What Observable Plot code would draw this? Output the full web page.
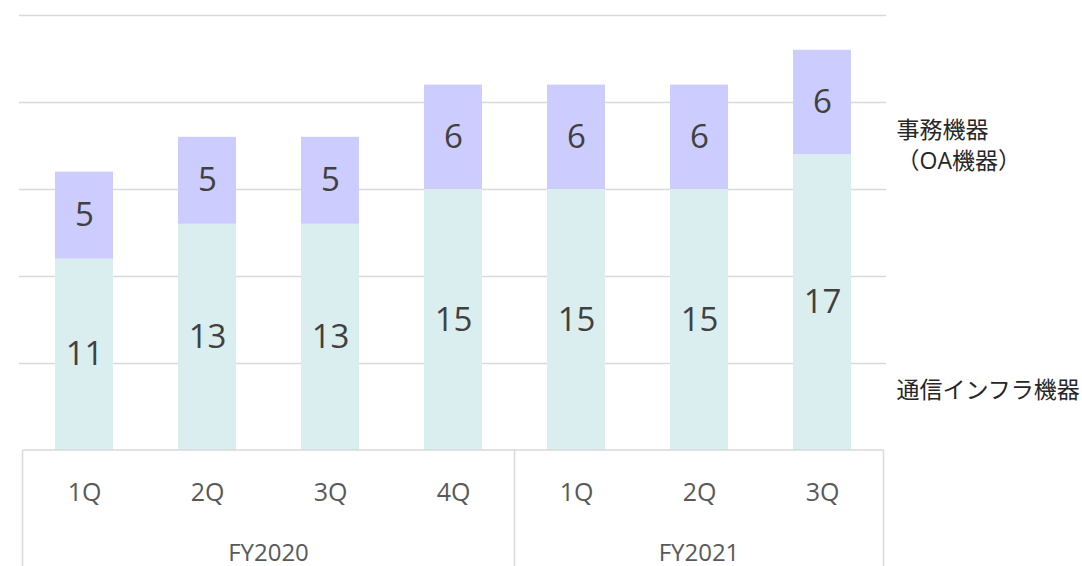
<!DOCTYPE html>
<html><head><meta charset="utf-8">
<script src="https://cdn.jsdelivr.net/npm/d3@7"></script>
<script src="https://cdn.jsdelivr.net/npm/@observablehq/plot@0.6"></script>
<style>
html,body{margin:0;padding:0;background:#fff;overflow:hidden}
svg{display:block}
</style>
</head><body><div id="chart"></div>
<script>
const quarters = ["1Q","2Q","3Q","4Q","1Q","2Q","3Q"];
const fiscalYears = ["FY2020","FY2020","FY2020","FY2020","FY2021","FY2021","FY2021"];
const infraValues = [11,13,13,15,15,15,17];
const oaValues = [5,5,5,6,6,6,6];
const seriesNames = ["通信インフラ機器","事務機器\n（OA機器）"];
const yTicks = [0,5,10,15,20,25];

const keys = quarters.map((q,i) => fiscalYears[i] + " " + q);
const quarterOf = Object.fromEntries(keys.map((k,i) => [k, quarters[i]]));
const rows = [];
keys.forEach((k,i) => {
  rows.push({key:k, series:seriesNames[0], value:infraValues[i]});
  rows.push({key:k, series:seriesNames[1], value:oaValues[i]});
});
const fyGroups = Array.from(d3.group(keys.map((k,i)=>({k,fy:fiscalYears[i]})), d=>d.fy), ([fy, arr]) => ({fy, keys: arr.map(d=>d.k)}));

const FONT = "'Open Sans','Noto Sans CJK JP',sans-serif";
const GRID = "#d9d9d9";

function groupAxis(index, scales, values, dims) {
  const x = scales.x;
  const bw = x.bandwidth();
  const step = x.step();
  const gap = (step - bw) / 2;
  const y0 = scales.y(0);
  const bottom = dims.height;
  const g = d3.create("svg:g");
  const left = x(keys[0]) - gap;
  const right = x(keys[keys.length-1]) + bw + gap;
  g.append("line").attr("x1",left).attr("x2",right).attr("y1",y0).attr("y2",y0)
    .attr("stroke",GRID).attr("stroke-width",1.5);
  const bounds = [left];
  fyGroups.forEach(gr => bounds.push(x(gr.keys[gr.keys.length-1]) + bw + gap));
  bounds.forEach(b => g.append("line").attr("x1",b).attr("x2",b).attr("y1",y0).attr("y2",bottom)
    .attr("stroke",GRID).attr("stroke-width",1.5));
  fyGroups.forEach(gr => {
    const a = x(gr.keys[0]) - gap, b = x(gr.keys[gr.keys.length-1]) + bw + gap;
    g.append("text").attr("x",(a+b)/2).attr("y",y0+101)
      .attr("text-anchor","middle").attr("dominant-baseline","central")
      .attr("font-family",FONT).attr("font-size",24).attr("fill","#595959").text(gr.fy);
  });
  return g.node();
}

const chart = Plot.plot({
  width: 1082,
  height: 566,
  marginLeft: 19,
  marginRight: 196,
  marginTop: 15,
  marginBottom: 116,
  style: {fontFamily: FONT, background: "#fff"},
  x: {domain: keys, paddingInner: 0.53, paddingOuter: 0.265, axis: null},
  y: {domain: [0,25], axis: null},
  color: {domain: seriesNames, range: ["#daeef0","#ccccff"]},
  marks: [
    Plot.gridY(yTicks.slice(1), {stroke: GRID, strokeWidth: 1.5, strokeOpacity: 1}),
    Plot.barY(rows, Plot.stackY({x:"key", y:"value", fill:"series", order: seriesNames})),
    Plot.text(rows, Plot.stackY({x:"key", y:"value", z:"series", order: seriesNames, text: d=>String(d.value),
      fontSize: 33, fill: "#404040"})),
    Plot.text(keys, {x: d=>d, text: d=>quarterOf[d], frameAnchor: "bottom", dy: 42, lineAnchor: "middle",
      fontSize: 25, fill: "#595959"}),
    groupAxis,
    Plot.text([seriesNames[1]], {frameAnchor: "top-right", text: d=>d, textAnchor: "start", lineAnchor: "middle",
      dx: 10, dy: 128, fontSize: 23, lineHeight: 1.35, fill: "#262626"}),
    Plot.text([seriesNames[0]], {frameAnchor: "bottom-right", text: d=>d, textAnchor: "start", lineAnchor: "middle",
      dx: 10, dy: -60, fontSize: 23, fill: "#262626"})
  ]
});
document.getElementById("chart").append(chart);
</script>
</body></html>
